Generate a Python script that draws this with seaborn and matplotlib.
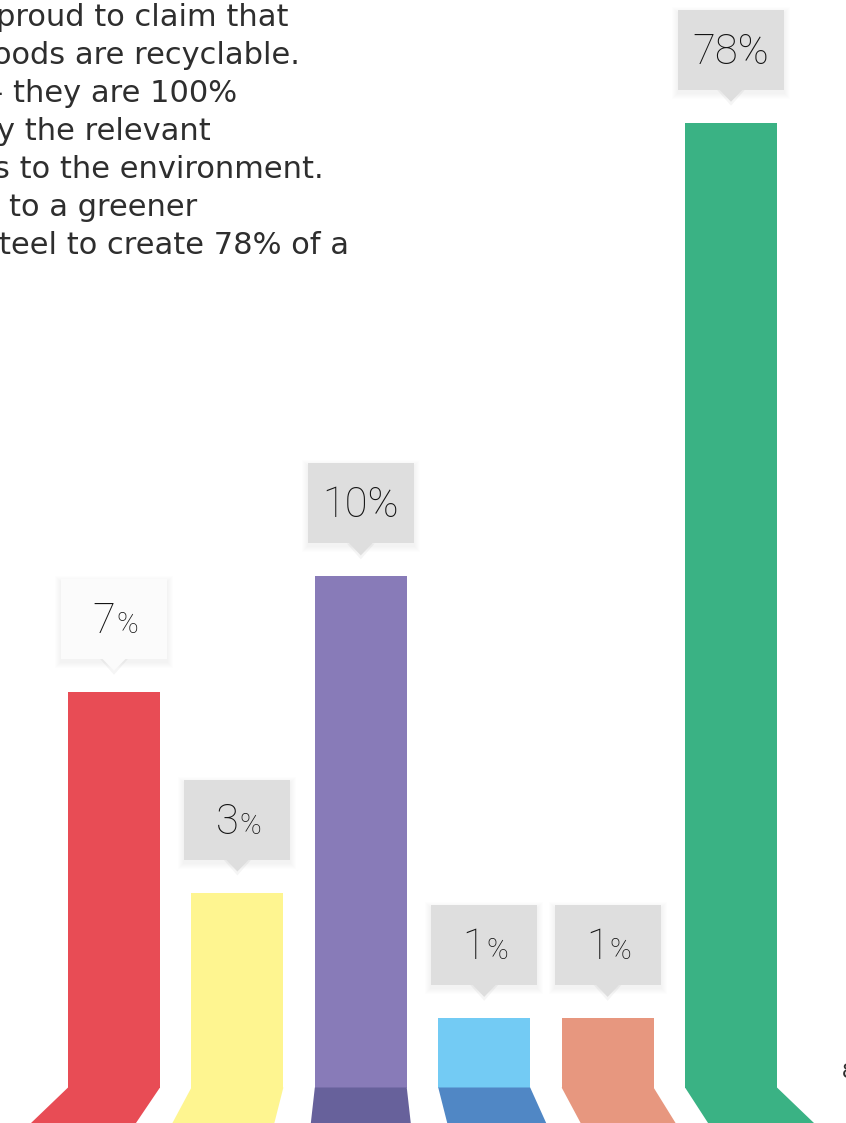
"""
Recycled content bar chart with callout labels.
"""

import numpy as np
import matplotlib
matplotlib.use("Agg")
import matplotlib.pyplot as plt
from matplotlib.patches import Rectangle, Polygon
import seaborn as sns

# Data
categories = ["Part 1", "Part 2", "Part 3", "Part 4", "Part 5", "Part 6"]
values = [7, 3, 10, 1, 1, 78]
labels = ["7%", "3%", "10%", "1%", "1%", "78%"]
intro_lines = [
    "proud to claim that",
    "oods are recyclable.",
    "\u2013 they are 100%",
    "y the relevant",
    "s to the environment.",
    "to a greener",
    "teel to create 78% of a",
]
page_number = "8"

# Style
bar_colors = ["#e84c55", "#fef590", "#887bb8", "#73cbf4", "#e7977f", "#3ab284"]
foot_colors = ["#e84c55", "#fef590", "#67619b", "#5087c5", "#e7977f", "#3ab284"]
foot_skew = [(-37, -24), (-19, -9), (-4, 4), (9, 16), (19, 22), (23, 37)]
box_colors = ["#fbfbfb", "#dedede", "#dedede", "#dedede", "#dedede", "#dedede"]
intro_x = [-4, -7, -12, -3, -6, 9, -1]
TEXT_COLOR = "#2e2e2e"
TAU = 13.3  # saturating value scale so the big bar stays on the page

W, H = 846, 1123
sns.set_theme(style="white")
plt.rcParams["font.family"] = ["Lato", "DejaVu Sans"]


def forward(v):
    return 1 - np.exp(-np.asarray(v, dtype=float) / TAU)


def inverse(y):
    y = np.clip(np.asarray(y, dtype=float), None, 1 - 1e-12)
    return -TAU * np.log(1 - y)


def draw_callout(ov, cx, top, text, value, color):
    """Box with a pointer sitting above the bar top (pixel coords)."""
    bw, bh = 106, 80
    bottom = top - 33
    # soft shadow, heavier under the box
    for k in range(1, 7):
        ov.add_patch(Rectangle((cx - bw / 2 - k, bottom - bh - k + 3), bw + 2 * k, bh + 2 * k,
                               color="black", alpha=0.008, lw=0, zorder=2))
    ov.add_patch(Polygon([(cx - 14, bottom), (cx + 14, bottom), (cx, bottom + 16)],
                         closed=True, color="black", alpha=0.04, lw=0, zorder=2))
    ov.add_patch(Rectangle((cx - bw / 2, bottom - bh), bw, bh, color=color, lw=0, zorder=3))
    ov.add_patch(Polygon([(cx - 12, bottom - 0.5), (cx + 12, bottom - 0.5), (cx, bottom + 12)],
                         closed=True, color=color, lw=0, zorder=3))
    base = bottom - bh / 2 + 14
    font = dict(family=["Roboto", "DejaVu Sans"], fontweight="light", color="#141414", zorder=4)
    if value < 10:
        ov.text(cx + 1, base, text[:-1], ha="right", va="baseline", fontsize=30, **font)
        ov.text(cx + 2, base, "%", ha="left", va="baseline", fontsize=21, **font)
    else:
        ov.text(cx, base, text, ha="center", va="baseline", fontsize=30, **font)


def plot_chart():
    fig = plt.figure(figsize=(W / 100, H / 100), dpi=100)
    fig.patch.set_facecolor("white")

    # Bar axes: base of bars at y=1088 px
    ax = fig.add_axes([52.3 / W, 35 / H, 740.4 / W, 968 / H])
    sns.barplot(x=categories, y=values, hue=categories, palette=bar_colors, legend=False,
                width=0.745, saturation=1, linewidth=0, ax=ax)
    ax.set_yscale("function", functions=(forward, inverse))
    ax.set_ylim(0, 200)
    ax.set_xlim(-0.5, 5.5)
    ax.axis("off")

    # Overlay in pixel coordinates for callouts, feet and text
    ov = fig.add_axes([0, 0, 1, 1], zorder=3)
    ov.set_xlim(0, W)
    ov.set_ylim(H, 0)
    ov.axis("off")

    to_px = ov.transData.inverted()
    bars = sorted(ax.patches, key=lambda p: p.get_x())
    for i, bar in enumerate(bars):
        x0, w, h = bar.get_x(), bar.get_width(), bar.get_height()
        (l, base), (r, top) = to_px.transform(ax.transData.transform([(x0, 0), (x0 + w, h)]))
        dl, dr = foot_skew[i]
        ov.add_patch(Polygon([(l, base - 0.5), (r, base - 0.5), (r + dr, H), (l + dl, H)],
                             closed=True, color=foot_colors[i], lw=0, zorder=1))
        draw_callout(ov, (l + r) / 2, top, labels[i], values[i], box_colors[i])

    # Intro paragraph, cut off at the left edge
    for i, line in enumerate(intro_lines):
        ov.text(intro_x[i], 26 + 38 * i, line, ha="left", va="baseline", fontsize=22,
                family=["DejaVu Sans"], color=TEXT_COLOR, zorder=4)

    ov.text(842, 1078, page_number, ha="left", va="baseline", fontsize=16,
            color=TEXT_COLOR, zorder=4)

    fig.savefig("out.png", dpi=100)
    plt.close(fig)


if __name__ == "__main__":
    plot_chart()
